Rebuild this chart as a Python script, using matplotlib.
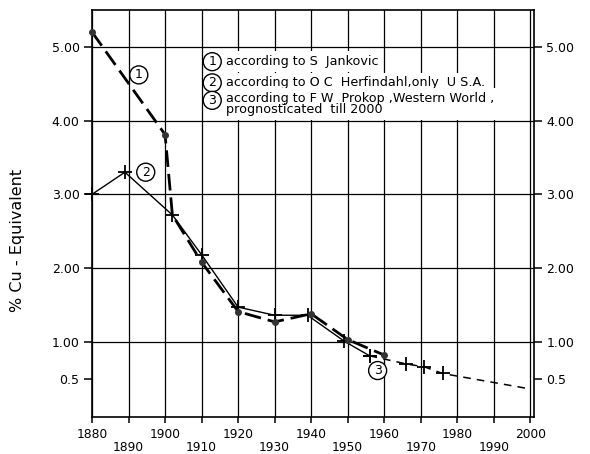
import matplotlib
matplotlib.use('Agg')
import matplotlib.pyplot as plt

# % Cu-equivalent of mined ore
years_jankovic = [1880, 1900, 1902, 1910, 1920, 1930, 1940, 1950, 1960]
cu_jankovic = [5.20, 3.81, 2.72, 2.08, 1.41, 1.27, 1.38, 1.03, 0.82]

years_herfindahl = [1880, 1889, 1902, 1910, 1920, 1930, 1939, 1949, 1956]
cu_herfindahl = [3.00, 3.30, 2.72, 2.18, 1.47, 1.36, 1.36, 1.01, 0.81]

years_prokop = [1956, 1966, 1971, 1976, 2000]
cu_prokop = [0.81, 0.70, 0.66, 0.57, 0.36]

ytick_vals = [0.5, 1, 2, 3, 4, 5]
ytick_labels = ['0.5', '1.00', '2.00', '3.00', '4.00', '5.00']
xtick_vals = list(range(1880, 2001, 10))

legend_lines = [
    ('1', 'according to S  Jankovic'),
    ('2', 'according to O C  Herfindahl,only  U S.A.'),
    ('3', 'according to F W  Prokop ,Western World ,\nprognosticated  till 2000'),
]

plt.rcParams['font.family'] = ['DejaVu Sans']

fig = plt.figure(figsize=(5.9, 4.54), dpi=100)
ax = fig.add_axes([0.156, 0.0815, 0.749, 0.8965])

ax.set_xlim(1880, 2001)
ax.set_ylim(-0.02, 5.5)

# grid: decades vertically, whole percents horizontally
for x in xtick_vals:
    ax.axvline(x, color='black', lw=0.9, zorder=1)
for y in [1, 2, 3, 4, 5]:
    ax.axhline(y, color='black', lw=0.9, zorder=1)

# 1: Jankovic, heavy long dashes with dots
ax.plot(years_jankovic, cu_jankovic, color='black', lw=2.0,
        linestyle=(0, (6, 2.5)), zorder=4)
ax.plot([y for i, y in enumerate(years_jankovic) if i != 2],
        [v for i, v in enumerate(cu_jankovic) if i != 2],
        linestyle='none', marker='o', ms=4, color='#333333', zorder=5,
        clip_on=False)

# 2: Herfindahl, thin solid with crosses
ax.plot(years_herfindahl, cu_herfindahl, color='black', lw=1.0,
        marker='+', ms=10, mew=1.3, zorder=4, clip_on=False)

# 3: Prokop, thin dashes with crosses
ax.plot(years_prokop, cu_prokop, color='black', lw=1.1,
        linestyle=(0, (5, 4)), marker='+', ms=10, mew=1.3,
        markevery=[0, 1, 2, 3], zorder=4)

circle = dict(boxstyle='circle,pad=0.2', fc='white', ec='black', lw=1.0)
ax.text(1892.8, 4.62, '1', ha='center', va='center', fontsize=9, bbox=circle, zorder=6)
ax.text(1894.7, 3.30, '2', ha='center', va='center', fontsize=9, bbox=circle, zorder=6)
ax.text(1958.2, 0.61, '3', ha='center', va='center', fontsize=9, bbox=circle, zorder=6)

# legend block: circled numbers + text on white ground
circle_y = [0.873, 0.821, 0.778]
text_y = [0.873, 0.821, 0.769]
for (num, label), cy, ty in zip(legend_lines, circle_y, text_y):
    ax.text(0.272, cy, num, transform=ax.transAxes, ha='center', va='center',
            fontsize=9, bbox=circle, zorder=6)
    ax.text(0.303, ty, label, transform=ax.transAxes, ha='left', va='center',
            fontsize=9.2, linespacing=0.85, zorder=6,
            bbox=dict(boxstyle='square,pad=0.3', fc='white', ec='none'))

ax.set_yticks(ytick_vals)
ax.set_yticklabels(ytick_labels)
ax.set_xticks(xtick_vals)
ax.set_xticklabels([str(x) if i % 2 == 0 else '\n' + str(x)
                    for i, x in enumerate(xtick_vals)], linespacing=0.95)

ax.tick_params(axis='y', which='both', direction='out', length=6, width=1.1,
               labelsize=9, right=True, labelright=True, pad=3)
ax.tick_params(axis='x', direction='out', length=4, width=1.1,
               labelsize=8.8, pad=4)

for s in ax.spines.values():
    s.set_linewidth(1.2)

fig.text(17.5 / 590, 1 - 240 / 454, '% Cu - Equivalent', rotation=90,
         ha='center', va='center', fontsize=11.5)

fig.savefig('out.png', dpi=100)
